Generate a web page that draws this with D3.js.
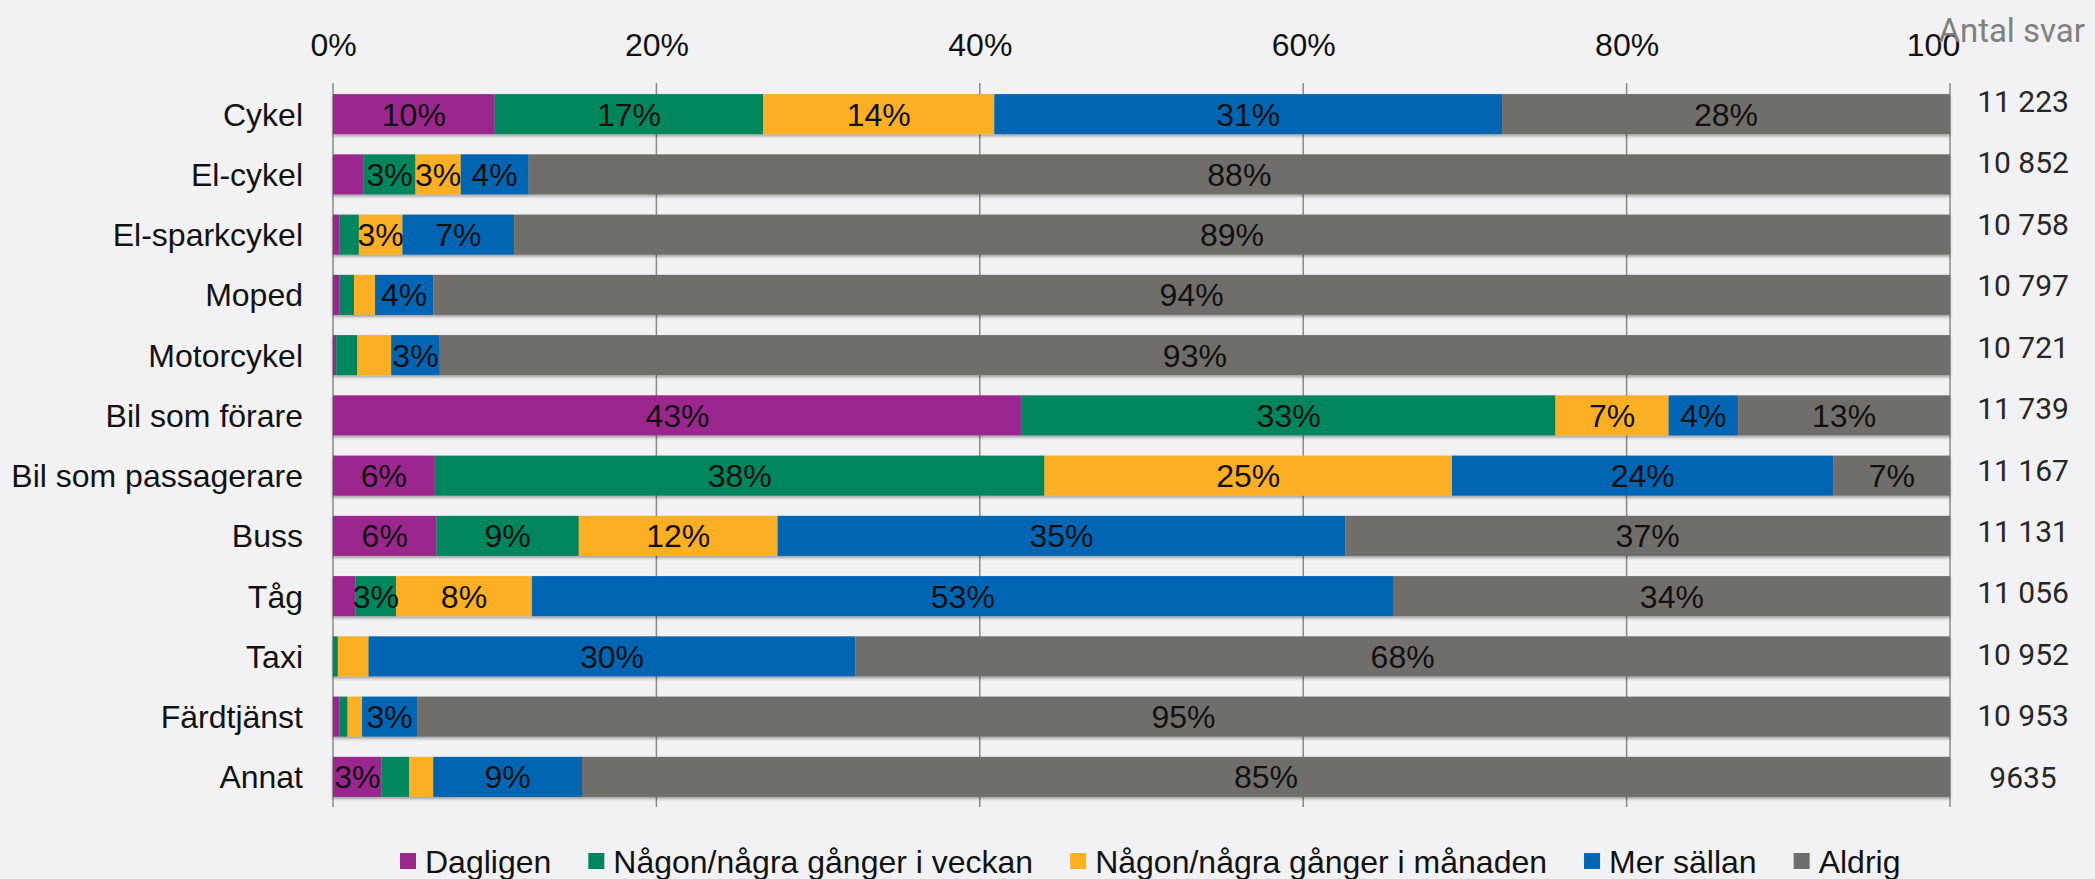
<!DOCTYPE html>
<html>
<head>
<meta charset="utf-8">
<script src="https://cdn.jsdelivr.net/npm/d3@7"></script>
<style>
  html, body { margin: 0; padding: 0; background: #f2f2f4; }
  svg { display: block; }
</style>
</head>
<body>
<svg id="chart" width="2095" height="879"></svg>
<script>
const categories = ["Cykel", "El-cykel", "El-sparkcykel", "Moped", "Motorcykel", "Bil som förare",
  "Bil som passagerare", "Buss", "Tåg", "Taxi", "Färdtjänst", "Annat"];
const seriesNames = ["Dagligen", "Någon/några gånger i veckan", "Någon/några gånger i månaden", "Mer sällan", "Aldrig"];
const seriesColors = ["#9b288d", "#00865d", "#fcaf21", "#0066b3", "#706e6a"];
const dagligen = [10.0, 1.9, 0.4, 0.4, 0.2, 42.6, 6.3, 6.4, 1.4, 0.0, 0.4, 3.0];
const veckan   = [16.6, 3.2, 1.2, 0.9, 1.3, 33.0, 37.7, 8.8, 2.5, 0.3, 0.5, 1.7];
const manaden  = [14.3, 2.8, 2.7, 1.3, 2.1, 7.0, 25.2, 12.3, 8.4, 1.9, 0.9, 1.5];
const sallan   = [31.4, 4.2, 6.9, 3.6, 3.0, 4.3, 23.6, 35.1, 53.3, 30.1, 3.4, 9.2];
const aldrig   = [27.7, 87.9, 88.8, 93.8, 93.4, 13.1, 7.2, 37.4, 34.4, 67.7, 94.8, 84.6];
const antalSvar = [11223, 10852, 10758, 10797, 10721, 11739, 11167, 11131, 11056, 10952, 10953, 9635];
const xTicks = [0, 20, 40, 60, 80, 100];
const xTickLabels = ["0%", "20%", "40%", "60%", "80%", "100"];
const countTitle = "Antal svar";

const seriesValues = [dagligen, veckan, manaden, sallan, aldrig];
const rows = categories.map((c, i) => {
  const r = { cat: c };
  seriesNames.forEach((s, j) => r[s] = seriesValues[j][i]);
  return r;
});
const stacked = d3.stack().keys(seriesNames)(rows);

const svg = d3.select("#chart");
const FONT = "'Liberation Sans', Arial, sans-serif";
const ROBOTO = "Roboto, 'Liberation Sans', sans-serif";
const FS = 32;

const x = d3.scaleLinear().domain([0, 100]).range([333, 1950]);
const y = d3.scaleBand().domain(categories).range([84, 807]).paddingInner(0.335).paddingOuter(0.1675);
const yCount = d3.scalePoint().domain(categories).range([101, 777]);

const defs = svg.append("defs");
const f = defs.append("filter").attr("id", "shadow").attr("x", "-5%").attr("y", "-20%").attr("width", "110%").attr("height", "150%");
f.append("feDropShadow").attr("dx", 0).attr("dy", 2).attr("stdDeviation", 1.5)
  .attr("flood-color", "#000").attr("flood-opacity", 0.35);

// gridlines
svg.append("g").selectAll("line").data(xTicks).join("line")
  .attr("x1", d => x(d)).attr("x2", d => x(d))
  .attr("y1", 83).attr("y2", 807)
  .attr("stroke", "#8a8a8a").attr("stroke-width", 1.5);

// bars
const barG = svg.append("g").attr("filter", "url(#shadow)");
stacked.forEach((layer, j) => {
  barG.append("g").attr("fill", seriesColors[j])
    .selectAll("rect").data(layer).join("rect")
    .attr("x", d => x(d[0]))
    .attr("width", d => Math.max(0, x(d[1]) - x(d[0])))
    .attr("y", d => y(d.data.cat))
    .attr("height", y.bandwidth());
});

// value labels
const labG = svg.append("g").attr("font-family", FONT).attr("font-size", FS).attr("fill", "#111")
  .attr("text-anchor", "middle");
stacked.forEach((layer, j) => {
  labG.append("g").selectAll("text")
    .data(layer.filter(d => (d[1] - d[0]) >= 2.5))
    .join("text")
    .attr("x", d => x((d[0] + d[1]) / 2))
    .attr("y", d => y(d.data.cat) + y.bandwidth() / 2)
    .attr("dy", "0.36em")
    .text(d => Math.round(d[1] - d[0]) + "%");
});

// top axis
const axis = d3.axisTop(x).tickValues(xTicks).tickSize(0).tickPadding(0)
  .tickFormat((d, i) => xTickLabels[i]);
const axG = svg.append("g").attr("transform", "translate(0,56)").call(axis);
axG.select(".domain").remove();
axG.selectAll("text").attr("font-family", FONT).attr("font-size", FS).attr("fill", "#111")
  .attr("dx", d => d === 100 ? -17 : 0);

// category axis
const yAxis = d3.axisLeft(y).tickSize(0).tickPadding(30);
const yG = svg.append("g").attr("transform", "translate(333,0)").call(yAxis);
yG.select(".domain").remove();
yG.selectAll("text").attr("font-family", FONT).attr("font-size", FS).attr("fill", "#111").attr("dy", "0.36em");

// count column
svg.append("text").attr("x", 2085).attr("y", 42).attr("text-anchor", "end")
  .attr("font-family", ROBOTO).attr("font-size", 33).attr("fill", "#808080").text(countTitle);
const fmt = d3.formatLocale({ decimal: ",", thousands: " ", grouping: [3], currency: ["", ""] }).format(",d");
svg.append("g").selectAll("text").data(categories).join("text")
  .attr("x", 2023).attr("y", d => yCount(d)).attr("dy", "0.36em")
  .attr("text-anchor", "middle").attr("font-family", ROBOTO).attr("font-size", 30).attr("fill", "#262626")
  .text((d, i) => antalSvar[i] >= 10000 ? fmt(antalSvar[i]) : String(antalSvar[i]));

// legend
const legG = svg.append("g").attr("font-family", FONT).attr("font-size", FS).attr("fill", "#111");
let lx = 400;
seriesNames.forEach((s, j) => {
  legG.append("rect").attr("x", lx).attr("y", 853).attr("width", 16).attr("height", 16).attr("fill", seriesColors[j]);
  const t = legG.append("text").attr("x", lx + 25).attr("y", 861).attr("dy", "0.36em").text(s);
  const w = t.node().getComputedTextLength();
  lx = lx + 25 + w + 37;
});
</script>
</body>
</html>
